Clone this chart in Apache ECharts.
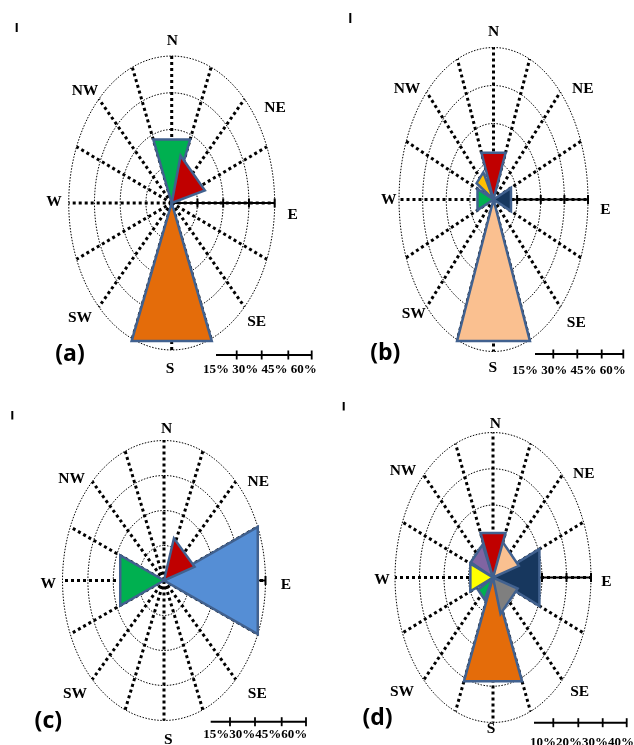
<!DOCTYPE html>
<html><head><meta charset="utf-8">
<script src="https://cdn.jsdelivr.net/npm/echarts@6/dist/echarts.min.js"></script>
<style>html,body{margin:0;padding:0;background:#fff}#c{width:634px;height:745px}</style>
</head><body><div id="c"></div>
<script>
// ---------- DATA ----------
const spokeDirs = ['N','NNE','NE','ENE','E','ESE','SE','SSE','S','SSW','SW','WSW','W','WNW','NW','NNW'];
const compassLabels = ['N','NE','E','SE','S','SW','W','NW'];

const ringTicksA = [15, 30, 45, 60];
const ringTicksB = [15, 30, 45, 60];
const ringTicksC = [15, 30, 45, 60];
const ringTicksD = [10, 20, 30, 40];

// (a)
const dirA = ['S', 'N', 'NE'];
const valA = [61, 28, 20];
// (b)
const dirB = ['S', 'NW', 'W', 'E', 'N'];
const valB = [60.5, 12.5, 11, 12, 20];
// (c)
const dirC = ['E', 'W', 'NE'];
const valC = [60, 28, 19];
// (d)
const dirD = ['S', 'E', 'SE', 'NW', 'W', 'SW', 'NE', 'N'];
const valD = [31, 20.5, 10.5, 10, 10, 7, 11, 13.3];

const panelNames = ['(a)', '(b)', '(c)', '(d)'];

// ---------- STYLE / LAYOUT ----------
const colA = ['#E46C0A', '#00B050', '#C00000'];
const colB = ['#FAC090', '#FFC000', '#00B050', '#17375E', '#C00000'];
const colC = ['#558ED5', '#00B050', '#C00000'];
const colD = ['#E46C0A', '#17375E', '#7F7F7F', '#8064A2', '#FFFF00', '#00B050', '#FAC090', '#C00000'];

// half-opening angle (deg) of each drawn triangle
const halfA = [22.5, 22.5, 30];
const halfB = [22.5, 14, 22.5, 22.5, 22.5];
const halfC = [22.5, 22.5, 27];
const halfD = [22.5, 22.5, 28, 20, 22.5, 16, 28, 22.5];

const panels = [
  {dirs: dirA, vals: valA, cols: colA, half: halfA, ticks: ringTicksA, cx: 171.7, cy: 203, rx: 103, ry: 147,
   lab: [[172.3,41],[275,108.3],[292.7,215],[256.7,321.7],[170,369],[80,318.3],[54,201.7],[85,90.7]],
   name: [70,354], bar: {x0: 216, y: 355, t: [236.7,261.7,288.3,311.7], lx: 203, ly: 370, sep: ' '}, mark: [15.7,23,2,9]},
  {dirs: dirB, vals: valB, cols: colB, half: halfB, ticks: ringTicksB, cx: 493.5, cy: 199.5, rx: 94.5, ry: 152,
   lab: [[493.7,32.3],[582.7,89.3],[605.3,210],[576.3,323.3],[492.7,368],[413.7,314.3],[388.7,200],[407,89.3]],
   name: [385.3,353], bar: {x0: 535, y: 354, t: [553.3,577.3,601.7,623.3], lx: 512, ly: 371, sep: ' '}, mark: [349.3,13,2,10]},
  {dirs: dirC, vals: valC, cols: colC, half: halfC, ticks: ringTicksC, cx: 164, cy: 580.5, rx: 101.5, ry: 140,
   lab: [[166.7,429.3],[258.3,482],[286,585.3],[257.3,693.7],[168.3,740],[75,693.7],[48.3,583.7],[71.7,478.7]],
   name: [48.3,721], bar: {x0: 210.7, y: 721.7, t: [230,255,281.7,306], lx: 203.3, ly: 734.5, sep: ''}, mark: [11.3,411,2,8.5]},
  {dirs: dirD, vals: valD, cols: colD, half: halfD, ticks: ringTicksD, cx: 493, cy: 577.5, rx: 98, ry: 145,
   lab: [[495.3,423.7],[583.7,473.7],[606.3,582],[579.7,692],[491,729.3],[402,692],[382,580.3],[403,471]],
   name: [377.5,718], bar: {x0: 534, y: 722.7, t: [553.3,578.3,602.7,626.7], lx: 530, ly: 743, sep: ''}, mark: [342.7,402,2,8.5]}
];

const OUTLINE = '#41618F';
const rad = d => d * Math.PI / 180;
const angleOf = d => spokeDirs.indexOf(d) * 22.5;

const grids = [], xAxes = [], yAxes = [], series = [], graphics = [];

panels.forEach((p, i) => {
  const M = p.ticks[p.ticks.length - 1];
  grids.push({left: p.cx - p.rx, top: p.cy - p.ry, width: 2 * p.rx, height: 2 * p.ry});
  xAxes.push({type: 'value', gridIndex: i, min: -M, max: M, show: false});
  yAxes.push({type: 'value', gridIndex: i, min: -M, max: M, show: false});

  // rings
  series.push({
    type: 'custom', coordinateSystem: 'cartesian2d', xAxisIndex: i, yAxisIndex: i, silent: true, z: 1,
    data: p.ticks.map(t => [t, 0]),
    renderItem: (params, api) => {
      const r = api.value(0);
      const pts = [];
      for (let a = 0; a <= 360; a += 3) pts.push(api.coord([r * Math.sin(rad(a)), r * Math.cos(rad(a))]));
      return {type: 'polyline', shape: {points: pts},
        style: {fill: null, stroke: '#000', lineWidth: 1, lineDash: [1.5, 1.5]}};
    }
  });
  // spokes
  series.push({
    type: 'custom', coordinateSystem: 'cartesian2d', xAxisIndex: i, yAxisIndex: i, silent: true, z: 2,
    data: spokeDirs.map(d => [angleOf(d), M]),
    renderItem: (params, api) => {
      const a = api.value(0), r = api.value(1);
      const c = api.coord([0, 0]);
      const e = api.coord([r * Math.sin(rad(a)), r * Math.cos(rad(a))]);
      return {type: 'line', shape: {x1: c[0], y1: c[1], x2: e[0], y2: e[1]},
        style: {stroke: '#000', lineWidth: 3, lineDash: [3, 3]}};
    }
  });
  // E scale axis
  series.push({
    type: 'custom', coordinateSystem: 'cartesian2d', xAxisIndex: i, yAxisIndex: i, silent: true, z: 3,
    data: p.ticks.map(t => [t, 0]),
    renderItem: (params, api) => {
      const t = api.value(0);
      const c = api.coord([0, 0]);
      const e = api.coord([t, 0]);
      const prev = params.dataIndex === 0 ? c : api.coord([p.ticks[params.dataIndex - 1], 0]);
      return {type: 'group', children: [
        {type: 'line', shape: {x1: prev[0], y1: prev[1], x2: e[0], y2: e[1]}, style: {stroke: '#000', lineWidth: 2}},
        {type: 'line', shape: {x1: e[0], y1: e[1] - 4.5, x2: e[0], y2: e[1] + 4.5}, style: {stroke: '#000', lineWidth: 2}}
      ]};
    }
  });
  // petals
  series.push({
    type: 'custom', coordinateSystem: 'cartesian2d', xAxisIndex: i, yAxisIndex: i, silent: true, z: 5,
    data: p.dirs.map((d, k) => ({value: [angleOf(d), p.vals[k], p.half[k]], itemStyle: {color: p.cols[k]}})),
    renderItem: (params, api) => {
      const a = api.value(0), v = api.value(1), h = api.value(2);
      const P = ang => api.coord([v * Math.sin(rad(ang)), v * Math.cos(rad(ang))]);
      return {type: 'polygon', shape: {points: [api.coord([0, 0]), P(a - h), P(a + h)]},
        style: {fill: api.visual('color'), stroke: OUTLINE, lineWidth: 2.5, lineJoin: 'miter'}};
    }
  });

  // compass labels
  compassLabels.forEach((t, k) => {
    graphics.push({type: 'text', x: p.lab[k][0], y: p.lab[k][1], z: 10,
      style: {text: t, fill: '#000', font: 'bold 15.5px "Liberation Serif"', align: 'center', verticalAlign: 'middle'}});
  });
  // panel name
  graphics.push({type: 'text', x: p.name[0], y: p.name[1], z: 10,
    style: {text: panelNames[i], fill: '#000', font: 'bold 23px "Open Sans"', align: 'center', verticalAlign: 'middle'}});
  // scale bar
  const b = p.bar;
  const tEnd = b.t[b.t.length - 1];
  graphics.push({type: 'line', z: 10, shape: {x1: b.x0, y1: b.y, x2: tEnd, y2: b.y}, style: {stroke: '#000', lineWidth: 2}});
  b.t.forEach(x => graphics.push({type: 'line', z: 10, shape: {x1: x, y1: b.y - 4.5, x2: x, y2: b.y + 4.5}, style: {stroke: '#000', lineWidth: 1.8}}));
  graphics.push({type: 'text', x: b.lx, y: b.ly, z: 10,
    style: {text: p.ticks.map(t => t + '%').join(b.sep), fill: '#000', font: 'bold 13px "Liberation Serif"', align: 'left', verticalAlign: 'middle'}});
  // small mark
  graphics.push({type: 'rect', z: 10, shape: {x: p.mark[0], y: p.mark[1], width: p.mark[2], height: p.mark[3]}, style: {fill: '#000'}});
});

const chart = echarts.init(document.getElementById('c'), null, {renderer: 'canvas'});
chart.setOption({
  animation: false,
  backgroundColor: '#fff',
  grid: grids, xAxis: xAxes, yAxis: yAxes,
  series: series,
  graphic: graphics
});
</script></body></html>
